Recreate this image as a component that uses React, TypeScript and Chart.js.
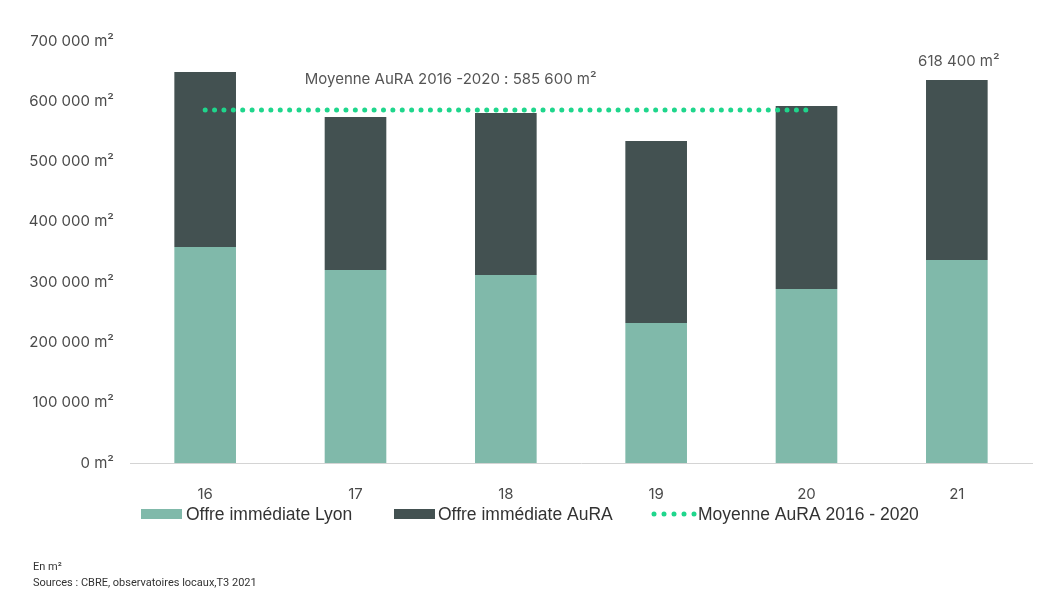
import React, { useEffect, useRef } from "react";
import { Chart, registerables } from "chart.js";

Chart.register(...registerables);

const categories = ["16", "17", "18", "19", "20", "21"];
const lyonValues = [358300, 320100, 311800, 232200, 288600, 336700];
const auraValues = [290200, 253800, 268700, 301900, 303500, 298600];
const averageValue = 585600;
const averageSeries = [585600, 585600, 585600, 585600, 585600, null];
const yTicks = [0, 100000, 200000, 300000, 400000, 500000, 600000, 700000];
const averageLabel = "Moyenne AuRA 2016 -2020 : 585 600 m²";
const lastLabel = "618 400 m²";
const legendLabels = ["Offre immédiate Lyon", "Offre immédiate AuRA", "Moyenne AuRA 2016 - 2020"];
const footerLines = ["En m²", "Sources : CBRE, observatoires locaux,T3 2021"];

const LYON = "#80b9aa";
const AURA = "#435151";
const GREEN = "#1fd68c";
const TEXT = "#4a4a4a";

function fmt(v: number): string {
  const s = Math.round(v).toString().replace(/\B(?=(\d{3})+(?!\d))/g, " ");
  return s + " m²";
}

const overlayPlugin = {
  id: "overlay",
  afterDraw(chart: any) {
    const ctx = chart.ctx as CanvasRenderingContext2D;
    const x = chart.scales.x;
    const y = chart.scales.y;
    ctx.save();
    // average annotation
    ctx.font = "15px Inter, 'Noto Sans', sans-serif";
    ctx.fillStyle = "#555555";
    ctx.textAlign = "center";
    ctx.textBaseline = "middle";
    const ax = (x.getPixelForValue(1) + x.getPixelForValue(2)) / 2 + 20;
    ctx.fillText(averageLabel, ax, y.getPixelForValue(averageValue) - 30);
    // last bar label
    const lastTotal = lyonValues[5] + auraValues[5];
    ctx.fillText(lastLabel, x.getPixelForValue(5) + 2, y.getPixelForValue(lastTotal) - 19);

    // legend
    const ly = 514;
    ctx.textAlign = "left";
    ctx.fillStyle = LYON;
    ctx.fillRect(141, ly - 5, 41, 10);
    ctx.fillStyle = AURA;
    ctx.fillRect(394, ly - 5, 41, 10);
    ctx.fillStyle = GREEN;
    for (let i = 0; i < 5; i++) {
      ctx.beginPath();
      ctx.arc(654 + i * 10, ly, 2.5, 0, Math.PI * 2);
      ctx.fill();
    }
    ctx.font = "17.5px 'Liberation Sans', Arial, sans-serif";
    ctx.fillStyle = "#333333";
    ctx.fillText(legendLabels[0], 186, ly + 1);
    ctx.fillText(legendLabels[1], 438, ly + 1);
    ctx.fillText(legendLabels[2], 698, ly + 1);

    // footer
    ctx.font = "11px Roboto, 'Noto Sans', sans-serif";
    ctx.fillStyle = "#333333";
    ctx.fillText(footerLines[0], 33, 567);
    ctx.fillText(footerLines[1], 33, 583);
    ctx.restore();
  },
};

export default function App() {
  const ref = useRef<HTMLCanvasElement | null>(null);
  useEffect(() => {
    document.body.style.margin = "0";
    const chart = new Chart(ref.current as HTMLCanvasElement, {
      type: "bar",
      data: {
        labels: categories,
        datasets: [
          {
            type: "line",
            label: legendLabels[2],
            data: averageSeries as any,
            borderColor: GREEN,
            borderWidth: 5,
            borderDash: [0.01, 9.375],
            borderCapStyle: "round",
            pointRadius: 0,
            fill: false,
            stack: "avg",
            order: 0,
            spanGaps: false,
          } as any,
          {
            label: legendLabels[0],
            data: lyonValues,
            backgroundColor: LYON,
            stack: "bars",
            order: 1,
            categoryPercentage: 1,
            barPercentage: 0.41,
          },
          {
            label: legendLabels[1],
            data: auraValues,
            backgroundColor: AURA,
            stack: "bars",
            order: 1,
            categoryPercentage: 1,
            barPercentage: 0.41,
          },
        ],
      },
      options: {
        responsive: false,
        animation: false,
        layout: { padding: { left: 0, right: 12, top: 41, bottom: 103 } },
        plugins: {
          legend: { display: false },
          tooltip: { enabled: false },
        },
        scales: {
          x: {
            stacked: true,
            grid: { display: false },
            border: { color: "#d4d4d4", width: 1 },
            ticks: {
              color: TEXT,
              font: { size: 15, family: "Inter, 'Noto Sans', sans-serif" },
              padding: 14,
            },
            afterFit(scale: any) {
              scale.height = 40;
            },
          },
          y: {
            stacked: true,
            min: 0,
            max: 700000,
            afterBuildTicks(scale: any) {
              scale.ticks = yTicks.map((v) => ({ value: v }));
            },
            grid: { display: false },
            border: { display: false },
            ticks: {
              color: TEXT,
              font: { size: 15, family: "Inter, 'Noto Sans', sans-serif" },
              padding: 8,
              callback: (v: any) => fmt(Number(v)),
            },
            afterFit(scale: any) {
              scale.width = 130;
            },
          },
        },
      } as any,
      plugins: [overlayPlugin],
    });
    return () => chart.destroy();
  }, []);
  return <canvas ref={ref} width={1044} height={606} style={{ display: "block" }} />;
}
